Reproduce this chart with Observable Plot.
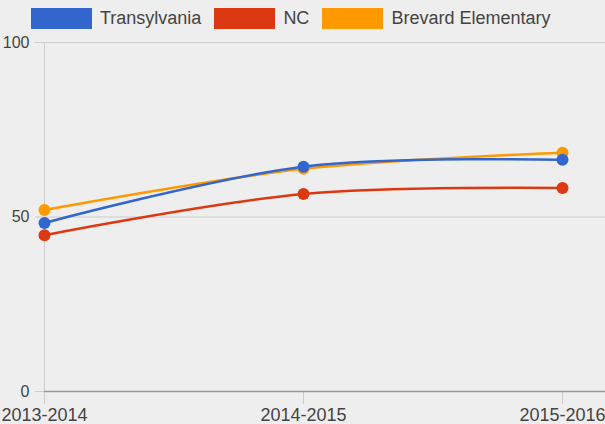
<!DOCTYPE html>
<html><head><meta charset="utf-8">
<script src="https://cdn.jsdelivr.net/npm/d3@7"></script>
<script src="https://cdn.jsdelivr.net/npm/@observablehq/plot@0.6"></script>
<style>
body{margin:0;background:#eeeeee;font-family:"Liberation Sans",Arial,sans-serif;overflow:hidden;}
#legend{height:30px;box-sizing:border-box;padding:8px 0 0 31px;display:flex;align-items:flex-start;}
.item{display:flex;align-items:center;margin-right:13px;}
.sw{width:61px;height:21px;margin-right:8px;}
.lb{font-size:18px;color:#444;line-height:21px;}
#chart svg{display:block;background:#eeeeee;}
</style></head><body>
<div id="legend"></div><div id="chart"></div>
<script>
const years = ["2013-2014", "2014-2015", "2015-2016"];
const transylvania = [48.3, 64.4, 66.4];
const nc = [44.8, 56.6, 58.3];
const brevard = [52.0, 63.8, 68.4];
const seriesNames = ["Transylvania", "NC", "Brevard Elementary"];
const seriesValues = [transylvania, nc, brevard];
const colors = ["#3366cc", "#dc3912", "#ff9900"];
const yTicks = [0, 50, 100];

const data = [];
seriesNames.forEach((s, i) => years.forEach((y, j) => data.push({series: s, year: y, value: seriesValues[i][j]})));
const drawData = data.slice().reverse();

const legend = document.getElementById("legend");
seriesNames.forEach((s, i) => {
  const it = document.createElement("div"); it.className = "item";
  const sw = document.createElement("div"); sw.className = "sw"; sw.style.background = colors[i];
  const lb = document.createElement("span"); lb.className = "lb"; lb.textContent = s;
  it.append(sw, lb); legend.append(it);
});

const chart = Plot.plot({
  width: 605, height: 394,
  marginTop: 12, marginBottom: 33, marginLeft: 44, marginRight: 0,
  style: {background: "#eeeeee", fontFamily: "Liberation Sans, Arial, sans-serif", color: "#444"},
  x: {type: "point", domain: years, range: [44, 562], padding: 0},
  y: {domain: [0, 100]},
  color: {domain: seriesNames, range: colors},
  marks: [
    Plot.ruleY([50, 100], {stroke: "#cccccc", strokeWidth: 1}),
    Plot.ruleX([years[0]], {stroke: "#cccccc"}),
    Plot.axisY({ticks: yTicks, tickSize: 9, tickPadding: 6, stroke: "#cccccc", fontSize: 16, fill: "#444", label: null}),
    Plot.axisX({tickSize: 13, tickPadding: 4, stroke: "#cccccc", fontSize: 18, fill: "#444", label: null}),
    Plot.ruleY([0], {stroke: "#999999", strokeWidth: 1.5}),
    Plot.line(drawData, {x: "year", y: "value", z: "series", stroke: "series", strokeWidth: 2.5, curve: "catmull-rom"}),
    Plot.dot(drawData, {x: "year", y: "value", fill: "series", r: 6})
  ]
});
document.getElementById("chart").append(chart);
</script>
</body></html>
